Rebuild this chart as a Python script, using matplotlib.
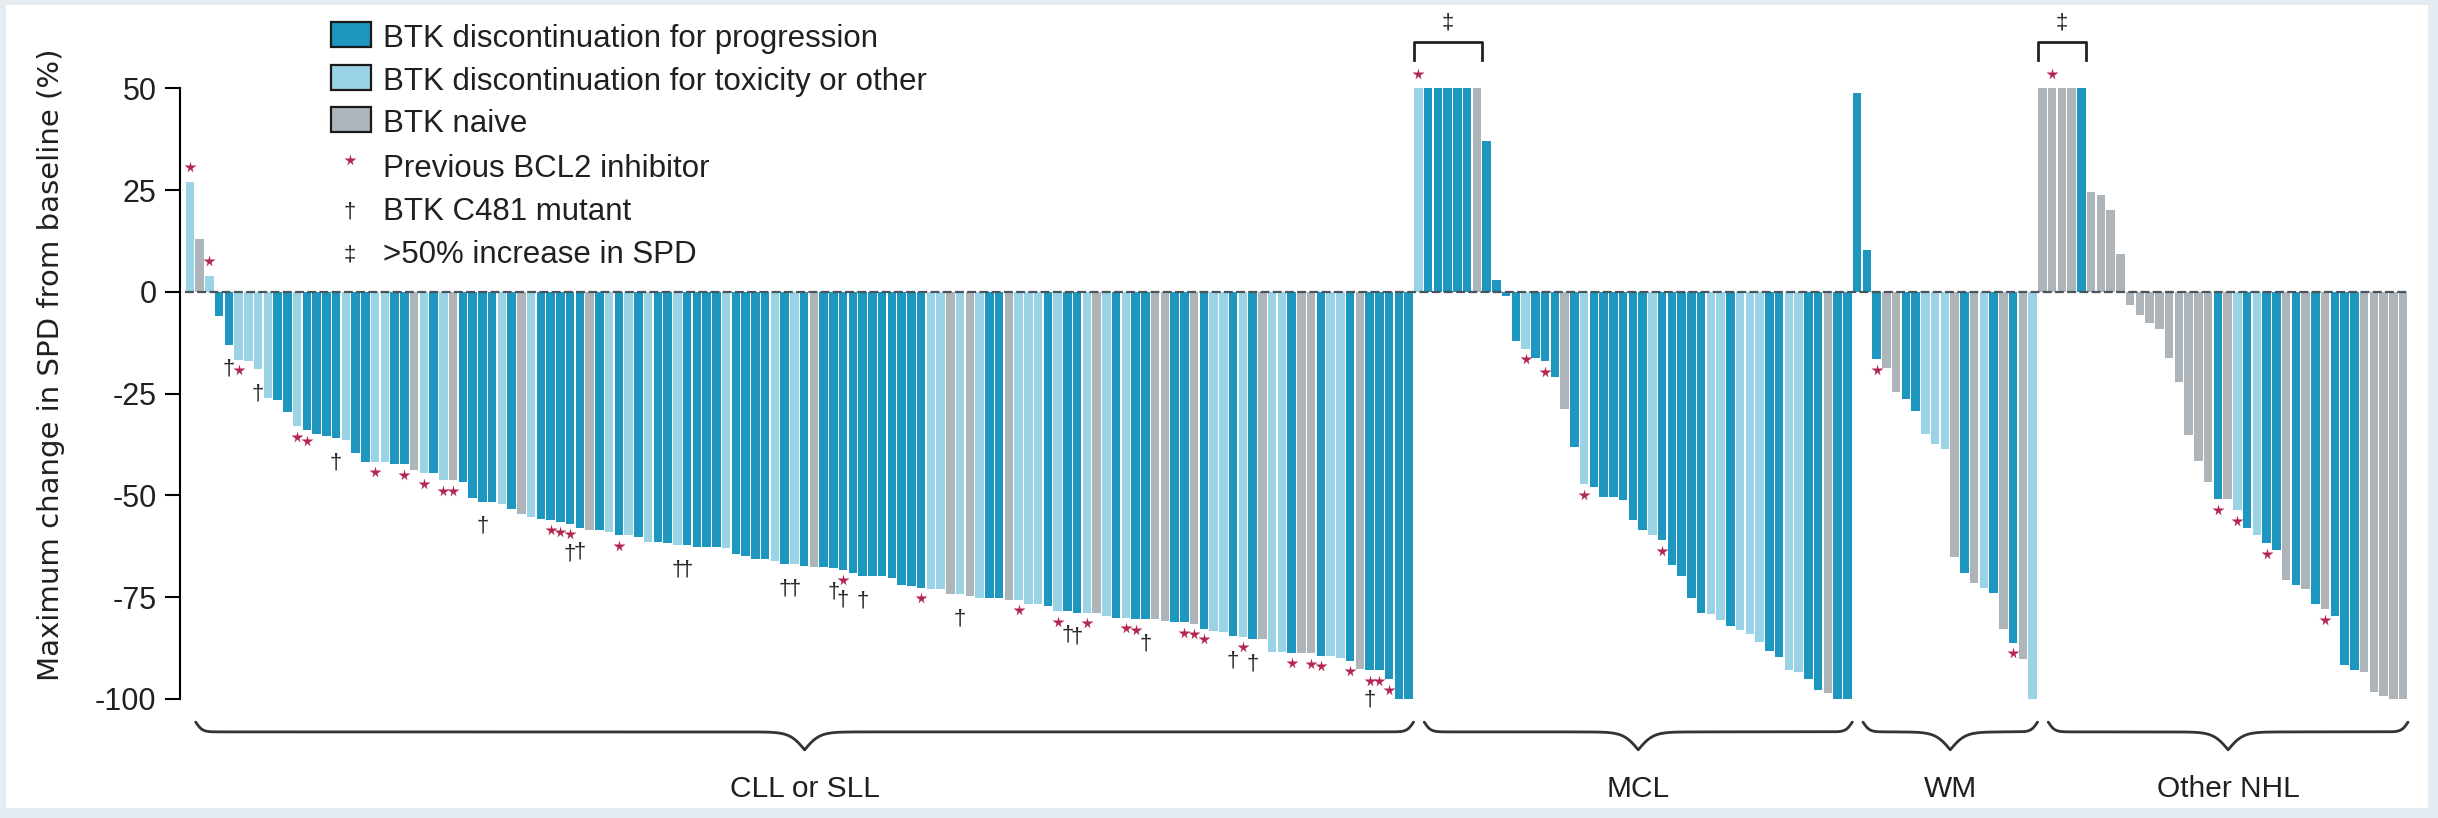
import numpy as np
import matplotlib
matplotlib.use('Agg')
import matplotlib.pyplot as plt
from matplotlib.patches import Rectangle
from matplotlib.lines import Line2D

plt.rcParams['font.family'] = ['Liberation Sans', 'DejaVu Sans']
plt.rcParams['axes.unicode_minus'] = False

group_names = ['CLL or SLL', 'MCL', 'WM', 'Other NHL']

# status: P = discontinued for progression, T = toxicity/other, N = BTK naive
cll_values = [27, 13, 4, -6, -13, -16.7, -17, -19, -26, -26.5,
              -29.6, -33, -34, -35, -35.5, -36, -36.4, -39.6, -41.7, -41.7,
              -41.7, -42.4, -42.4, -43.7, -44.6, -44.6, -46.2, -46.2, -46.7, -50.6,
              -51.6, -51.6, -52.2, -53.3, -54.5, -55.3, -55.7, -56, -56.5, -57,
              -58, -58.6, -58.6, -59, -59.8, -59.8, -60.2, -61.4, -61.4, -61.8,
              -62.3, -62.3, -62.7, -62.7, -62.7, -63, -64.3, -65, -65.5, -65.5,
              -66, -66.9, -66.9, -67.3, -67.6, -67.6, -67.8, -68.2, -69, -69.9,
              -69.9, -69.9, -70.4, -72, -72.3, -72.7, -73.1, -73.1, -74.3, -74.3,
              -74.8, -75.1, -75.1, -75.1, -75.6, -75.6, -76.7, -76.7, -77.2, -78.4,
              -78.4, -78.8, -78.8, -78.8, -79.7, -80, -80, -80.4, -80.4, -80.4,
              -80.8, -81.2, -81.2, -81.5, -82.7, -83.2, -83.5, -84.6, -84.7, -85.3,
              -85.3, -88.4, -88.4, -88.6, -88.8, -88.8, -89.4, -89.4, -89.9, -90.6,
              -92.7, -92.9, -92.9, -95.1, -100, -100]
cll_status = ("TNTPPTTTTP" "PTPPPPTPPT" "TPPNTPTNPP" "PPTPNTPPPP" "PNPTPTPTPP"
              "TPPPPTPPPP" "TPTPNPPPPP" "PPPPPPTTNT" "NTPPNTTTPT" "PPTNTPTPPN"
              "NPPNPTTPTP" "NTTPNNPTTP" "NPPPPP")
cll_marks = {1: '*', 3: '*', 5: '†', 6: '*', 8: '†', 12: '*', 13: '*', 16: '†',
             20: '*', 23: '*', 25: '*', 27: '*', 28: '*', 31: '†', 38: '*', 39: '*',
             40: '*†', 41: '†', 45: '*', 51: '†', 52: '†', 62: '†', 63: '†', 67: '†',
             68: '*†', 70: '†', 76: '*', 80: '†', 86: '*', 90: '*', 91: '†', 92: '†',
             93: '*', 97: '*', 98: '*', 99: '†', 103: '*', 104: '*', 105: '*',
             108: '†', 109: '*', 110: '†', 114: '*', 116: '*', 117: '*', 120: '*',
             122: '*†', 123: '*', 124: '*'}

mcl_values = [50, 50, 50, 50, 50, 50, 50, 37, 3, -1, -12, -14, -16.3, -17, -20.8,
              -28.8, -38.2, -47.3, -47.9, -50.4, -50.4, -51.2, -56.1, -58.5, -59.7,
              -61, -67, -69.8, -75.2, -78.8, -79.1, -80.5, -82, -83.1, -84,
              -86, -88.2, -89.7, -92.8, -93.3, -95, -97.7, -98.5, -100, -100]
mcl_status = "TPPPPPNPPPPTPPPNPTPPPPPPTPPPPPTTPTTTPPTTPPNPP"
mcl_marks = {1: '*', 12: '*', 14: '*', 18: '*', 26: '*'}

wm_values = [49, 10.4, -16.5, -18.6, -24.6, -26.2, -29.3, -34.8, -37.3, -38.7,
             -65.2, -69, -71.4, -72.8, -73.9, -82.9, -86.2, -90.2, -100]
wm_status = "PPPNNPPTTTNPNTPNPNT"
wm_marks = {3: '*', 17: '*'}

nhl_values = [50, 50, 50, 50, 50, 24.5, 23.8, 20.1, 9.2, -3.3,
              -5.6, -7.6, -9.2, -16.2, -22.2, -35.1, -41.5, -46.8, -50.9, -50.9,
              -53.7, -58.1, -59.7, -61.8, -63.4, -70.9, -72, -73, -76.6, -78,
              -79.6, -91.7, -93, -93.4, -98.2, -99.3, -100, -100]
nhl_status = "NNNNP" "NNNNNNNNNNNNN" "PNTPTPPNPNPNPPP" "NNNNN"
nhl_marks = {2: '*', 19: '*', 21: '*', 24: '*', 30: '*'}

# bars with >50% increase (first n bars of the group)
ddagger_groups = {'MCL': 7, 'Other NHL': 5}

legend_labels = ['BTK discontinuation for progression',
                 'BTK discontinuation for toxicity or other',
                 'BTK naive',
                 'Previous BCL2 inhibitor',
                 'BTK C481 mutant',
                 '>50% increase in SPD']

yticks = [50, 25, 0, -25, -50, -75, -100]

colors = {'P': '#1d97bf', 'T': '#9ad3e6', 'N': '#adb4ba'}
star_col = '#b3274f'
ink = '#231f20'

# ---- assemble ----
group_vals = [cll_values, mcl_values, wm_values, nhl_values]
group_stat = [cll_status, mcl_status, wm_status, nhl_status]
group_marks = [cll_marks, mcl_marks, wm_marks, nhl_marks]

values, status, marks, spans = [], [], {}, []
for vals, st, mk in zip(group_vals, group_stat, group_marks):
    start = len(values)
    values += vals
    status += list(st)
    for k, m in mk.items():
        marks[start + k - 1] = m
    spans.append((start, len(values) - 1))
values = np.array(values, dtype=float)
x = np.arange(len(values))

W, H = 2438, 818
fig = plt.figure(figsize=(W / 100, H / 100), dpi=100, facecolor='#e5ecf1')
fig.add_artist(Rectangle((6 / W, 1 - 808 / H), (2428 - 6) / W, (808 - 5) / H,
                         transform=fig.transFigure, facecolor='white',
                         edgecolor='none', zorder=0))

ax = fig.add_axes([180 / W, 1 - 808 / H, (2428 - 180) / W, (808 - 5) / H])
ax.set_facecolor('none')
ax.set_xlim(-1.015, 229.55)
ax.set_ylim(-126.8, 70.5)

ax.bar(x, values, width=0.86, color=[colors[s] for s in status],
       linewidth=0, zorder=2)
ax.hlines(0, -0.5, len(values) - 0.5, colors='#4a545c',
          linestyles=(0, (4, 1.5)), lw=1.6, zorder=3)

# markers under / above bars
sx, sy = [], []
for i, m in marks.items():
    v = values[i]
    if v > 0:
        sx.append(i); sy.append(v + 3.6)
        continue
    if '*' in m:
        sx.append(i); sy.append(v - 2.6)
    if '†' in m:
        dy = 7.4 if '*' in m else 6.0
        ax.text(i, v - dy, '†', ha='center', va='center', fontsize=16,
                color='#2b2b2b', zorder=4)
ax.plot(sx, sy, ls='none', marker='*', ms=8.5, color=star_col, mec='none',
        zorder=4, clip_on=False)

# >50% brackets
for g, n in ddagger_groups.items():
    s0 = spans[group_names.index(g)][0]
    x0, x1 = s0 - 0.5, s0 + n - 0.5
    ax.plot([x0, x0, x1, x1], [57, 61.3, 61.3, 57], color='#222222', lw=2,
            clip_on=False, zorder=4)
    ax.text((x0 + x1) / 2, 66, '‡', ha='center', va='center', fontsize=16,
            color='#2b2b2b')


def draw_brace(ax, xa, xb, y_hook, y_line, y_tip):
    half = (xb - xa) / 2
    t = np.linspace(0, half, 300)
    s1 = 1 / (1 + np.exp(-3.0 * t))
    s2 = 1 / (1 + np.exp(-1.3 * (t - half)))
    yh = y_hook - (y_hook - y_line) * 2 * (s1 - 0.5) - (y_line - y_tip) * 2 * s2
    xs = np.concatenate([xa + t, xb - t[::-1]])
    ys = np.concatenate([yh, yh[::-1]])
    ax.plot(xs, ys, color='#333333', lw=2, clip_on=False,
            solid_capstyle='round')


for name, (a, b) in zip(group_names, spans):
    xa, xb = a + 0.6, b + 0.5
    draw_brace(ax, xa, xb, -105.7, -108.1, -112.5)
    ax.text((xa + xb) / 2, -124.1, name, ha='center', va='baseline',
            fontsize=21.5, color=ink)

# axis styling
for sp in ['top', 'right', 'bottom']:
    ax.spines[sp].set_visible(False)
ax.spines['left'].set_bounds(-100, 50)
ax.spines['left'].set_linewidth(1.5)
ax.set_yticks(yticks)
ax.set_yticklabels([str(t) for t in yticks])
ax.set_xticks([])
ax.tick_params(axis='y', length=11, width=1.5, pad=6, labelsize=22,
               labelcolor=ink)

fig.text(51 / W, 1 - 365 / H, 'Maximum change in SPD from baseline (%)',
         rotation=90, ha='center', va='center', fontsize=21,
         family='DejaVu Sans', color=ink)

# legend (drawn by hand, pixel layout of the original)
row_base = [47, 90, 132, 177, 220, 263]
box_fill = [colors['P'], colors['T'], colors['N']]
for i, lab in enumerate(legend_labels):
    yb = row_base[i]
    if i < 3:
        fig.add_artist(Rectangle((331 / W, 1 - yb / H), 40 / W, 25 / H,
                                 transform=fig.transFigure, facecolor=box_fill[i],
                                 edgecolor='#1a1a1a', lw=1.6, zorder=5))
    elif i == 3:
        fig.add_artist(Line2D([350 / W], [1 - 160 / H], marker='*', ms=8.5,
                              color=star_col, mec='none',
                              transform=fig.transFigure))
    else:
        sym = '†' if i == 4 else '‡'
        fig.text(350 / W, 1 - (yb - 8) / H, sym, ha='center', va='center',
                 fontsize=16, color='#2b2b2b')
    fig.text(383 / W, 1 - yb / H, lab, ha='left', va='baseline',
             fontsize=22.5, color=ink)

fig.savefig('out.png', dpi=100, facecolor=fig.get_facecolor())
